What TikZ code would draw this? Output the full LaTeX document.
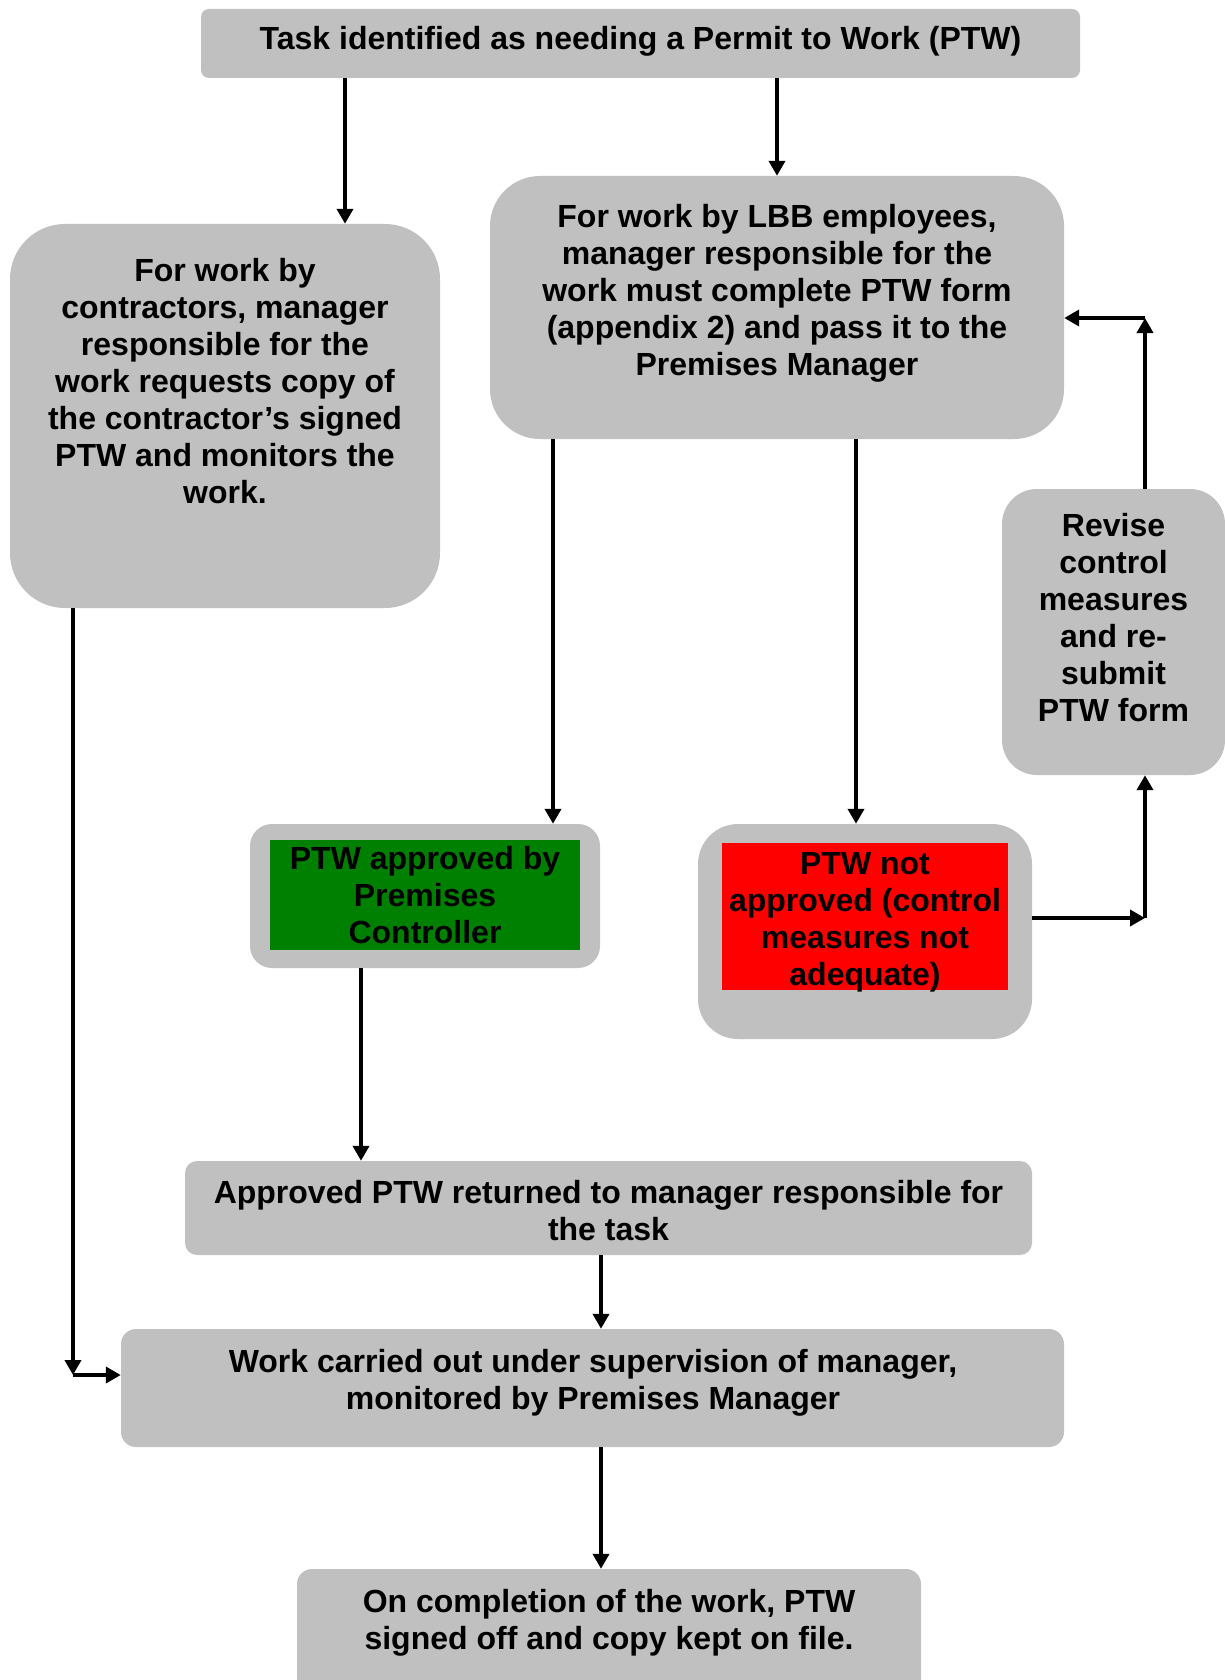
\documentclass[tikz,border=0pt]{standalone}
\usepackage{fontspec}
\setmainfont{Liberation Sans}
\usepackage{tikz}
\usetikzlibrary{arrows.meta}
\definecolor{boxgray}{RGB}{192,192,192}
\definecolor{okgreen}{RGB}{0,128,0}
\definecolor{notred}{RGB}{255,0,0}

\begin{document}
\begin{tikzpicture}[x=1pt, y=-1pt,
        box/.style = {fill=boxgray, inner sep=0pt},
        txt/.style = {align=center, inner sep=0pt, font=\fontsize{32}{37}\selectfont\bfseries},
        arr/.style = {line width=4.5pt, -{Triangle[length=15pt, width=16pt]}}]
            \useasboundingbox (0,0) rectangle (1225,1680);
            \clip (0,0) rectangle (1225,1680);
            \node[box, rounded corners=8pt, minimum width=879pt, minimum height=69pt](task) at (640.5,43.5) {};
            \node[txt](tasktext) at (640.5,41.5) {Task identified as needing a Permit to Work (PTW)};
            \node[box, rounded corners=55pt, minimum width=430pt, minimum height=384pt](contr) at (225,416) {};
            \node[txt](contrtext) at (225,381) {For work by\\contractors, manager\\responsible for the\\work requests copy of\\the contractor’s signed\\PTW and monitors the\\work.};
            \node[box, rounded corners=50pt, minimum width=574pt, minimum height=263pt](lbb) at (777,307.5) {};
            \node[txt](lbbtext) at (777,293) {For work by LBB employees,\\manager responsible for the\\work must complete PTW form\\(appendix 2) and pass it to the\\Premises Manager};
            \node[box, rounded corners=35pt, minimum width=223pt, minimum height=286pt](revise) at (1113.5,632) {};
            \node[txt](revisetext) at (1113.5,618) {Revise\\control\\measures\\and re-\\submit\\PTW form};
            \node[box, rounded corners=22pt, minimum width=350pt, minimum height=144pt](ok) at (425,896) {};
            \node[txt, fill=okgreen, minimum width=310pt, minimum height=110pt](okin) at (425,895) {PTW approved by\\Premises\\Controller};
            \node[box, rounded corners=40pt, minimum width=334pt, minimum height=215pt](notok) at (865,931.5) {};
            \node[fill=notred, inner sep=0pt, minimum width=286pt, minimum height=147pt](notokin) at (865,916.5) {};
            \node[txt](notoktext) at (865,922) {PTW not\\approved (control\\measures not\\adequate)};
            \node[box, rounded corners=12pt, minimum width=847pt, minimum height=94pt](back) at (608.5,1208) {};
            \node[txt](backtext) at (608.5,1211) {Approved PTW returned to manager responsible for\\the task};
            \node[box, rounded corners=15pt, minimum width=943pt, minimum height=118pt](work) at (592.5,1388) {};
            \node[txt](worktext) at (593,1383) {Work carried out under supervision of manager,\\monitored by Premises Manager};
            \node[box, rounded corners=15pt, minimum width=624pt, minimum height=130pt](done) at (609,1634) {};
            \node[txt](donetext) at (609,1623) {On completion of the work, PTW\\signed off and copy kept on file.};
            % bends of the side paths
            \coordinate (bendR) at (1145,918);
            \coordinate (bendUp) at (1145,318);
            \coordinate (bendL) at (73,1375);
            \draw[arr] (task.south -| 345,0) -- (contr.north -| 345,0);
            \draw[arr] (task.south -| lbb.north) -- (lbb.north);
            \draw[arr] (lbb.south -| 553,0) -- (ok.north -| 553,0);
            \draw[arr] (lbb.south -| 856,0) -- (notok.north -| 856,0);
            \draw[arr] (notok.east |- bendR) -- (bendR);
            \draw[arr] (bendR) -- (revise.south -| bendR);
            \draw[arr] (revise.north -| bendUp) -- (bendUp);
            \draw[arr] (bendUp) -- (lbb.east |- bendUp);
            \draw[arr] (ok.south -| 361,0) -- (back.north -| 361,0);
            \draw[arr] (back.south -| 601,0) -- (work.north -| 601,0);
            \draw[arr] (contr.south -| bendL) -- (bendL);
            \draw[arr] (bendL) -- (work.west |- bendL);
            \draw[arr] (work.south -| 601,0) -- (done.north -| 601,0);
        \end{tikzpicture}
\end{document}
